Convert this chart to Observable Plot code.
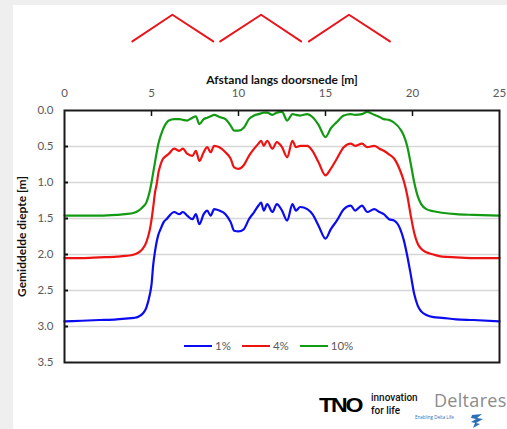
<!DOCTYPE html>
<html>
<head>
<meta charset="utf-8">
<script src="https://cdn.jsdelivr.net/npm/d3@7"></script>
<script src="https://cdn.jsdelivr.net/npm/@observablehq/plot@0.6"></script>
<style>
  html, body { margin: 0; padding: 0; background: #efefef; width: 507px; height: 429px; overflow: hidden; font-family: Lato, "Open Sans", sans-serif; }
  #panel { position: absolute; left: 13px; top: 5px; width: 494px; height: 424px; background: #ffffff; }
  #chart { position: absolute; left: 0; top: 0; }
  #legend { position: absolute; left: 184px; top: 339px; display: flex; align-items: center; font-size: 11.5px; line-height: 14px; color: #5a5a5a; }
  .item { display: flex; align-items: center; margin-right: 11px; }
  .swatch { display: inline-block; width: 28px; height: 0; border-top: 2.5px solid; margin-right: 3px; }
  .tno { position: absolute; left: 319px; top: 395px; font: 900 21px/20px "Liberation Sans", Arial, sans-serif; letter-spacing: -2px; color: #000; transform: scaleX(1.1); transform-origin: left; }
  .innov { position: absolute; left: 371px; font: 500 10px/10px Roboto, sans-serif; color: #111; }
  .deltares { position: absolute; left: 434px; top: 391px; font: 400 18px/18px "Open Sans", sans-serif; color: #8b8b8b; letter-spacing: 0.3px; }
  .enabling { position: absolute; left: 415px; top: 414px; font: 400 4.5px/6px "Open Sans", sans-serif; color: #2a6fb8; }
</style>
</head>
<body>
<div id="panel"></div>
<div id="chart"></div>
<div id="legend"></div>
<div class="tno">TNO</div>
<div class="innov" style="top:393px">innovation</div>
<div class="innov" style="top:406px">for life</div>
<div class="deltares">Deltares</div>
<div class="enabling">Enabling Delta Life</div>
<svg style="position:absolute;left:468px;top:413px" width="20" height="16" viewBox="0 0 20 16">
  <path d="M4 2 L14 1 L9 5 L15 6 L8 10 L12 11 L5 15 L7 10 L3 9 L8 6 L3 5 Z" fill="#2a6fb8"/>
</svg>
<script>
// Distance along the cross-section [m]
const xs = [0, 1, 2, 3, 3.5, 4.0, 4.2, 4.5, 4.7, 4.9, 5.0, 5.1, 5.2, 5.3, 5.4, 5.5, 5.6, 5.7, 5.9, 6.0,
  6.3, 6.6, 6.8, 7.05, 7.35, 7.55, 7.75, 8.0, 8.2, 8.4, 8.6, 8.9, 9.25, 9.55, 9.75, 10.0, 10.3, 10.6, 10.9, 11.15,
  11.3, 11.45, 11.65, 11.95, 12.2, 12.5, 12.8, 13.1, 13.3, 13.55, 13.95, 14.25, 14.6, 15.0, 15.3, 15.65, 16.05, 16.45, 16.7, 17.1,
  17.4, 17.8, 18.1, 18.35, 18.65, 18.95, 19.3, 19.5, 19.7, 19.9, 20.1, 20.3, 20.5, 20.8, 21.2, 21.7, 22.5, 23.5, 25];

// Mean depth [m] per exceedance level
const depth1 = [2.93, 2.92, 2.91, 2.90, 2.89, 2.88, 2.87, 2.82, 2.74, 2.56, 2.42, 2.14, 1.96, 1.82, 1.72, 1.66, 1.60, 1.55, 1.50, 1.47,
  1.41, 1.44, 1.41, 1.46, 1.51, 1.44, 1.58, 1.44, 1.39, 1.46, 1.37, 1.39, 1.44, 1.55, 1.67, 1.68, 1.65, 1.51, 1.41, 1.32,
  1.28, 1.39, 1.30, 1.41, 1.30, 1.39, 1.53, 1.30, 1.39, 1.34, 1.37, 1.44, 1.60, 1.78, 1.65, 1.53, 1.37, 1.32, 1.39, 1.32,
  1.41, 1.37, 1.41, 1.44, 1.51, 1.53, 1.65, 1.80, 2.02, 2.28, 2.55, 2.71, 2.79, 2.84, 2.87, 2.88, 2.90, 2.91, 2.93];

const depth4 = [2.05, 2.05, 2.04, 2.03, 2.02, 2.00, 1.98, 1.92, 1.83, 1.66, 1.52, 1.34, 1.14, 1.02, 0.86, 0.77, 0.70, 0.66, 0.62, 0.60,
  0.53, 0.56, 0.53, 0.60, 0.63, 0.56, 0.70, 0.58, 0.51, 0.58, 0.49, 0.51, 0.58, 0.67, 0.79, 0.81, 0.76, 0.63, 0.53, 0.46,
  0.42, 0.49, 0.42, 0.53, 0.44, 0.51, 0.65, 0.42, 0.51, 0.49, 0.49, 0.56, 0.72, 0.90, 0.81, 0.67, 0.51, 0.46, 0.49, 0.46,
  0.51, 0.49, 0.53, 0.56, 0.61, 0.67, 0.84, 0.98, 1.18, 1.46, 1.70, 1.85, 1.92, 1.97, 2.00, 2.03, 2.04, 2.05, 2.05];

const depth10 = [1.46, 1.46, 1.46, 1.45, 1.44, 1.42, 1.40, 1.34, 1.28, 1.12, 1.00, 0.86, 0.72, 0.58, 0.46, 0.37, 0.30, 0.24, 0.16, 0.14,
  0.12, 0.12, 0.13, 0.14, 0.10, 0.08, 0.19, 0.12, 0.10, 0.08, 0.06, 0.09, 0.12, 0.21, 0.28, 0.28, 0.24, 0.12, 0.07, 0.05,
  0.04, 0.03, 0.03, 0.06, 0.03, 0.02, 0.14, 0.05, 0.06, 0.07, 0.05, 0.09, 0.20, 0.37, 0.25, 0.16, 0.07, 0.05, 0.06, 0.05,
  0.02, 0.06, 0.09, 0.12, 0.13, 0.17, 0.26, 0.35, 0.50, 0.74, 1.00, 1.19, 1.30, 1.37, 1.40, 1.42, 1.44, 1.45, 1.46];

const seriesNames = ["1%", "4%", "10%"];
const seriesColors = ["#0b0bef", "#ee1313", "#139a13"];

// Roof outline drawn above the cross-section (three gable roofs)
const roofX = [3.9, 6.2, 8.55, 8.95, 11.3, 13.6, 14.05, 16.35, 18.7];
const roofY = [-0.96, -1.33, -0.96, -0.96, -1.33, -0.96, -0.96, -1.33, -0.96];
const roofId = [0, 0, 0, 1, 1, 1, 2, 2, 2];

const xTicks = [0, 5, 10, 15, 20, 25];
const xInnerTicks = [5, 10, 15, 20];
const yTicks = [0, 0.5, 1.0, 1.5, 2.0, 2.5, 3.0, 3.5];
const gridTicks = [0.5, 1.0, 1.5, 2.0, 2.5, 3.0];
const xLabel = "Afstand langs doorsnede [m]";
const yLabel = "Gemiddelde diepte [m]";

const allSeries = [depth1, depth4, depth10];
const data = [];
allSeries.forEach((arr, i) => arr.forEach((v, j) => data.push({x: xs[j], y: v, s: seriesNames[i]})));
const roof = roofX.map((x, i) => ({x, y: roofY[i], id: roofId[i]}));

const plot = Plot.plot({
  width: 507,
  height: 429,
  marginLeft: 64,
  marginRight: 8,
  marginTop: 110,
  marginBottom: 67,
  style: {background: "transparent", fontFamily: "Lato, 'Open Sans', sans-serif", fontSize: "11.5px", color: "#595959"},
  x: {domain: [0, 25]},
  y: {domain: [0, 3.5], reverse: true},
  color: {domain: seriesNames, range: seriesColors},
  marks: [
    Plot.gridY({ticks: gridTicks, stroke: "#d6d6d6", strokeOpacity: 1, strokeWidth: 1.5}),
    Plot.axisX({anchor: "top", ticks: xTicks, tickSize: 0, tickPadding: 14, label: null, fill: "#595959"}),
    Plot.axisY({anchor: "left", ticks: yTicks, tickSize: 0, tickPadding: 11, tickFormat: d3.format(".1f"), label: null, fill: "#595959"}),
    Plot.tickX(xInnerTicks, {x: d => d, stroke: "#111", strokeWidth: 1.5, insetBottom: 246}),
    Plot.tickY(gridTicks, {y: d => d, stroke: "#111", strokeWidth: 2, insetRight: 431}),
    Plot.line(data, {x: "x", y: "y", z: "s", stroke: "s", strokeWidth: 2.2, curve: "monotone-x"}),
    Plot.line(roof, {x: "x", y: "y", z: "id", stroke: "#e8161c", strokeWidth: 2}),
    Plot.frame({stroke: "#1a1a1a", strokeWidth: 2}),
    Plot.text([xLabel], {frameAnchor: "top", dy: -35, fontWeight: "bold", fontSize: 12, fill: "#111"}),
    Plot.text([yLabel], {frameAnchor: "left", textAnchor: "middle", dx: -42, rotate: -90, fontWeight: "bold", fontSize: 12, fill: "#111"})
  ]
});
document.getElementById("chart").appendChild(plot);

const legend = document.getElementById("legend");
seriesNames.forEach((name, i) => {
  const item = document.createElement("div");
  item.className = "item";
  const sw = document.createElement("span");
  sw.className = "swatch";
  sw.style.borderColor = seriesColors[i];
  item.appendChild(sw);
  const t = document.createElement("span");
  t.textContent = name;
  item.appendChild(t);
  legend.appendChild(item);
});
</script>
</body>
</html>
